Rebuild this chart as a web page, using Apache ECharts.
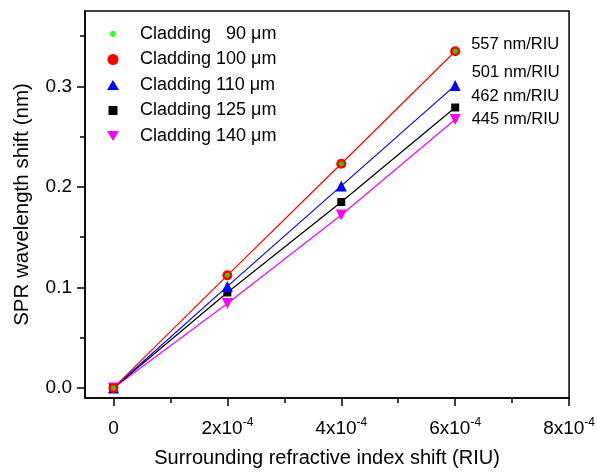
<!DOCTYPE html>
<html>
<head>
<meta charset="utf-8">
<script src="https://cdn.jsdelivr.net/npm/echarts@6/dist/echarts.min.js"></script>
<style>
html,body{margin:0;padding:0;background:#fff;}
#c{width:598px;height:473px;}
</style>
</head>
<body>
<div id="c"></div>
<script>
// ---- data ----
var xValues = [0, 0.0002, 0.0004, 0.0006];
var clad90  = [0, 0.112, 0.223, 0.335];
var clad100 = [0, 0.112, 0.223, 0.335];
var clad110 = [0, 0.101, 0.201, 0.301];
var clad125 = [0, 0.095, 0.185, 0.279];
var clad140 = [0, 0.084, 0.172, 0.267];
var seriesNames = ['Cladding   90 \u03bcm', 'Cladding 100 \u03bcm', 'Cladding 110 \u03bcm', 'Cladding 125 \u03bcm', 'Cladding 140 \u03bcm'];
var sensLabels = ['557 nm/RIU', '501 nm/RIU', '462 nm/RIU', '445 nm/RIU'];
var xMajorTicks = [0, 0.0002, 0.0004, 0.0006, 0.0008];
var xTickMant = ['0', '2', '4', '6', '8'];
var xMinorTicks = [0.0001, 0.0003, 0.0005, 0.0007];
var yMajorTicks = [0, 0.1, 0.2, 0.3];
var yTickLabels = ['0.0', '0.1', '0.2', '0.3'];
var yMinorTicks = [0.05, 0.15, 0.25, 0.35];

function pairs(ys){ return xValues.map(function(x,i){ return [x, ys[i]]; }); }
var FONT = '"Liberation Sans", Arial, sans-serif';

function withEndLabel(ys, text, dx, dy){
  var d = pairs(ys);
  var last = d.length - 1;
  d[last] = {value: d[last], label: {show: true, position: 'right', distance: dx, offset: [0, dy],
    formatter: text, color: '#000', fontSize: 16.5, fontFamily: FONT}};
  return d;
}

var invTri = 'path://M0 0L10 0L5 9Z';
var chart = echarts.init(document.getElementById('c'), null, {renderer: 'canvas'});
var option = {
  animation: false,
  backgroundColor: '#fff',
  textStyle: {fontFamily: FONT},
  grid: {left: 85, right: 28, top: 11, bottom: 72, show: true, borderColor: '#000', borderWidth: 1.5, backgroundColor: 'transparent'},
  legend: {
    orient: 'vertical', left: 102, top: 20, itemWidth: 44, itemHeight: 12, itemGap: 7.5,
    textStyle: {fontSize: 18, color: '#000', fontFamily: FONT},
    data: [
      {name: seriesNames[0], icon: 'path://M0 0M12 12M6 3A3 3 0 1 1 6 9A3 3 0 1 1 6 3Z'},
      {name: seriesNames[1], icon: 'path://M0 0M12 12M6 0.5A5.5 5.5 0 1 1 6 11.5A5.5 5.5 0 1 1 6 0.5Z'},
      {name: seriesNames[2], icon: 'path://M0 0M12 12M6 1L12 11L0 11Z'},
      {name: seriesNames[3], icon: 'path://M0 0M12 12M1.5 1.5L10.5 1.5L10.5 10.5L1.5 10.5Z'},
      {name: seriesNames[4], icon: 'path://M0 0M12 12M0 1L12 1L6 11Z'}
    ]
  },
  xAxis: [{
    type: 'value', min: -0.00005, max: 0.0008,
    name: 'Surrounding refractive index shift (RIU)', nameLocation: 'middle', nameGap: 50,
    nameTextStyle: {fontSize: 20, color: '#000', fontFamily: FONT},
    axisLine: {show: true, onZero: false, lineStyle: {color: '#000', width: 1.5}},
    axisTick: {show: true, inside: false, length: 8, customValues: xMajorTicks, lineStyle: {color: '#000', width: 1.5}},
    axisLabel: {
      customValues: xMajorTicks, margin: 19, color: '#000', fontSize: 19, fontFamily: FONT,
      formatter: function(v){
        var i = xMajorTicks.findIndex(function(t){ return Math.abs(t - v) < 1e-9; });
        var m = i >= 0 ? xTickMant[i] : '';
        return m === '0' ? '{n|0}' : '{n|' + m + 'x10}{s|-4}';
      },
      rich: {
        n: {fontSize: 19, lineHeight: 24, color: '#000', fontFamily: FONT},
        s: {fontSize: 12, lineHeight: 12, verticalAlign: 'top', color: '#000', fontFamily: FONT}
      }
    },
    splitLine: {show: false}
  }, {
    type: 'value', min: -0.00005, max: 0.0008, position: 'bottom',
    axisLine: {show: false, onZero: false},
    axisTick: {show: true, inside: false, length: 5, customValues: xMinorTicks, lineStyle: {color: '#000', width: 1.5}},
    axisLabel: {show: false}, splitLine: {show: false}
  }],
  yAxis: [{
    type: 'value', min: -0.01, max: 0.375,
    name: 'SPR wavelength shift (nm)', nameLocation: 'middle', nameGap: 52,
    nameTextStyle: {fontSize: 20.5, color: '#000', fontFamily: FONT},
    axisLine: {show: true, onZero: false, lineStyle: {color: '#000', width: 1.5}},
    axisTick: {show: true, inside: false, length: 8, customValues: yMajorTicks, lineStyle: {color: '#000', width: 1.5}},
    axisLabel: {
      customValues: yMajorTicks, margin: 13, color: '#000', fontSize: 19, fontFamily: FONT,
      formatter: function(v){
        var i = yMajorTicks.findIndex(function(t){ return Math.abs(t - v) < 1e-9; });
        return i >= 0 ? yTickLabels[i] : '';
      }
    },
    splitLine: {show: false}
  }, {
    type: 'value', min: -0.01, max: 0.375, position: 'left',
    axisLine: {show: false, onZero: false},
    axisTick: {show: true, inside: false, length: 5, customValues: yMinorTicks, lineStyle: {color: '#000', width: 1.5}},
    axisLabel: {show: false}, splitLine: {show: false}
  }],
  series: [
    {name: seriesNames[4], type: 'line', data: withEndLabel(clad140, sensLabels[3], 11, 0),
     symbol: invTri, symbolSize: 11, color: '#ff00ff',
     lineStyle: {color: '#ff00ff', width: 1.2}, itemStyle: {color: '#ff00ff'}},
    {name: seriesNames[3], type: 'line', data: withEndLabel(clad125, sensLabels[2], 12, -11.2),
     symbol: 'rect', symbolSize: 8, color: '#000',
     lineStyle: {color: '#000', width: 1.2}, itemStyle: {color: '#000'}},
    {name: seriesNames[2], type: 'line', data: withEndLabel(clad110, sensLabels[1], 11, -12.9),
     symbol: 'triangle', symbolSize: 11, color: '#0000ff',
     lineStyle: {color: '#0000ff', width: 1.2}, itemStyle: {color: '#0000ff'}},
    {name: seriesNames[1], type: 'line', data: withEndLabel(clad100, sensLabels[0], 11, -6.5),
     symbol: 'circle', symbolSize: 10, color: '#ff0000',
     lineStyle: {color: '#ff0000', width: 1.2}, itemStyle: {color: '#ff0000'}},
    {name: seriesNames[0], type: 'scatter', data: pairs(clad90), z: 5,
     symbol: 'circle', symbolSize: 5, color: '#00ff00', itemStyle: {color: '#00ff00'}}
  ]
};
chart.setOption(option);
</script>
</body>
</html>
